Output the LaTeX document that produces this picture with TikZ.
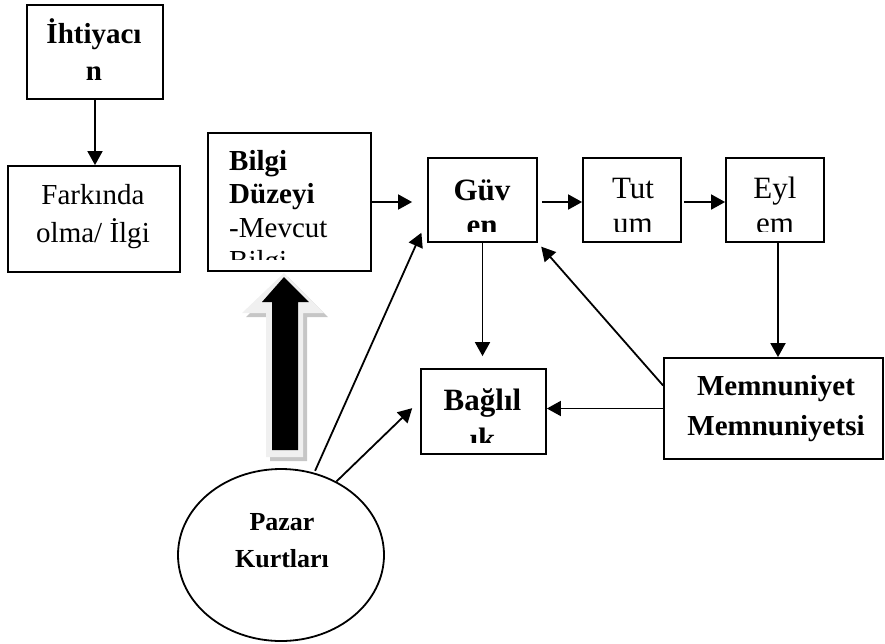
\documentclass[tikz,border=0pt]{standalone}
\usepackage{fontspec}
\setmainfont{Liberation Serif}
\usetikzlibrary{arrows.meta}
\usetikzlibrary{shapes.geometric}

\tikzset{
  kutu/.style={draw, line width=1.8pt, inner sep=0pt},
  yazi/.style={inner sep=0pt, align=center, anchor=base, font=\fontsize{29}{37}\selectfont},
  kalin/.style={yazi, font=\fontsize{29}{37}\selectfont\bfseries},
  ok/.style={-{Triangle[length=14pt,width=15pt]}, line width=1.8pt},
}

\begin{document}
\begin{tikzpicture}[x=1pt, y=-1pt]
\useasboundingbox (0,0) rectangle (885,643);

% kutular
\node [kutu, minimum width=136pt, minimum height=94pt] (ihtbox) at (95,52) {};
\node [kutu, minimum width=172pt, minimum height=106pt] (farkbox) at (94,219) {};
\node [kutu, minimum width=163pt, minimum height=138pt] (bilbox) at (289.5,202) {};
\node [kutu, minimum width=109pt, minimum height=84pt] (guvbox) at (482.5,200) {};
\node [kutu, minimum width=98pt, minimum height=84pt] (tutbox) at (632,200) {};
\node [kutu, minimum width=98pt, minimum height=84pt] (eylbox) at (775,200) {};
\node [kutu, minimum width=125pt, minimum height=85pt] (bagbox) at (483.5,411.5) {};
\node [kutu, minimum width=219pt, minimum height=101pt] (memnbox) at (773.5,408.5) {};
\node [draw, ellipse, line width=1.8pt, minimum width=206pt, minimum height=172pt] (pazar) at (281,555) {};

% kalin ok
\fill [gray!45] (288,277) -- (328,317) -- (307,317) -- (307,461) -- (270,461) -- (270,317) -- (246,317) -- cycle;
\fill [gray!12] (284,273) -- (324,313) -- (303,313) -- (303,457) -- (266,457) -- (266,313) -- (242,313) -- cycle;
\fill [black] (284,277) -- (309,302) -- (298,302) -- (298,450) -- (272,450) -- (272,302) -- (262,302) -- cycle;

% yazilar (son satirin taban cizgisine gore)
\node [kalin, font=\fontsize{29}{37}\selectfont\bfseries] (ihtiyac) at (94,80) {İhtiyacı\\n};
\node [yazi, font=\fontsize{29}{38}\selectfont] (farkinda) at (93,242) {Farkında\\olma/ İlgi};
\begin{scope}
\clip (bilbox.north west) rectangle ([yshift=12pt]bilbox.south east);
\node [yazi, align=left, anchor=base west, font=\fontsize{29}{33.5}\selectfont] (bilgi) at (229,270.5) {\textbf{Bilgi}\\\textbf{Düzeyi}\\-Mevcut\\Bilgi};
\end{scope}
\begin{scope}
\clip (guvbox.north west) rectangle ([yshift=11pt]guvbox.south east);
\node [kalin, font=\fontsize{31}{35}\selectfont\bfseries] (guven) at (482,235) {Güv\\en};
\end{scope}
\begin{scope}
\clip (tutbox.north west) rectangle ([yshift=11pt]tutbox.south east);
\node [yazi, font=\fontsize{31}{35}\selectfont] (tutum) at (633,233) {Tut\\um};
\end{scope}
\begin{scope}
\clip (eylbox.north west) rectangle ([yshift=11pt]eylbox.south east);
\node [yazi, font=\fontsize{31}{35}\selectfont] (eylem) at (775,233) {Eyl\\em};
\end{scope}
\begin{scope}
\clip (bagbox.north west) rectangle ([yshift=12pt]bagbox.south east);
\node [kalin, font=\fontsize{31}{39}\selectfont\bfseries] (baglilik) at (482.5,449) {Bağlıl\\ık};
\end{scope}
\node [kalin, font=\fontsize{29}{40}\selectfont\bfseries] (memnun) at (776,435) {Memnuniyet\\Memnuniyetsi};
\node [kalin, font=\fontsize{26}{37}\selectfont\bfseries] (pazarkurt) at (282,567) {Pazar\\Kurtları};

% oklar
\draw [ok] (ihtbox.south) -- (ihtbox.south |- farkbox.north);
\draw [ok, shorten >=15pt] (bilbox.east) -- (bilbox.east -| guvbox.west);
\draw [ok, shorten <=4pt] ([yshift=-2pt]guvbox.east) -- ([yshift=-2pt]guvbox.east -| tutbox.west);
\draw [ok, shorten <=2pt] ([yshift=-2pt]tutbox.east) -- ([yshift=-2pt]tutbox.east -| eylbox.west);
\draw [ok, shorten >=12pt] (guvbox.south) -- (guvbox.south |- bagbox.north);
\draw [ok] ([xshift=3pt]eylbox.south) -- ([xshift=3pt]eylbox.south |- memnbox.north);
\draw [ok] (memnbox.west) -- (memnbox.west -| bagbox.east);
\draw [ok, shorten >=5pt] ([yshift=23pt]memnbox.west) -- (guvbox.south east);
\draw [ok, shorten <=2pt, shorten >=14pt] (pazar.68) -- ([yshift=-20pt]guvbox.west);
\draw [ok, shorten >=11pt] (pazar.53) -- ([yshift=11pt]bagbox.west);
\end{tikzpicture}
\end{document}
